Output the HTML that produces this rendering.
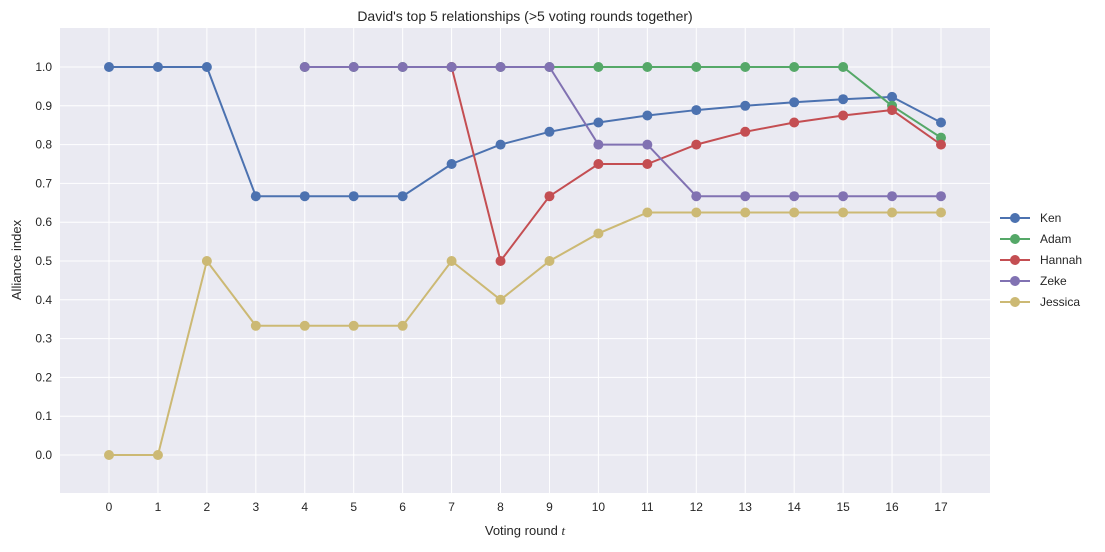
<!DOCTYPE html>
<html><head><meta charset="utf-8"><style>
body{margin:0;background:#fff;}
svg{display:block;font-family:"Liberation Sans",Arial,sans-serif;}
</style></head><body>
<svg id="chart" width="1105" height="552" xmlns="http://www.w3.org/2000/svg">
<rect x="60" y="28" width="930" height="465" fill="#eaeaf2"/>
<g id="grid"></g>
<g id="series"></g>
<g id="ticks" font-size="12" fill="#262626"></g>
<text x="525" y="21" text-anchor="middle" font-size="14" fill="#262626">David's top 5 relationships (&gt;5 voting rounds together)</text>
<text x="525" y="535" text-anchor="middle" font-size="13" fill="#262626">Voting round <tspan font-style="italic" font-family="Liberation Serif">t</tspan></text>
<text transform="translate(21,260) rotate(-90)" text-anchor="middle" font-size="13" fill="#262626">Alliance index</text>
<g id="legend" font-size="12" fill="#262626"></g>
</svg>
<script>
const rounds=[0,1,2,3,4,5,6,7,8,9,10,11,12,13,14,15,16,17];
const yTicks=[0,0.1,0.2,0.3,0.4,0.5,0.6,0.7,0.8,0.9,1.0];
const names=["Ken","Adam","Hannah","Zeke","Jessica"];
const colors=["#4c72b0","#55a868","#c44e52","#8172b2","#ccb974"];
const kenX=rounds, kenY=[1,1,1,0.667,0.667,0.667,0.667,0.75,0.8,0.833,0.857,0.875,0.889,0.9,0.909,0.917,0.923,0.857];
const adamX=[4,5,6,7,8,9,10,11,12,13,14,15,16,17], adamY=[1,1,1,1,1,1,1,1,1,1,1,1,0.9,0.818];
const hannahX=[7,8,9,10,11,12,13,14,15,16,17], hannahY=[1,0.5,0.667,0.75,0.75,0.8,0.833,0.857,0.875,0.889,0.8];
const zekeX=[4,5,6,7,8,9,10,11,12,13,14,15,16,17], zekeY=[1,1,1,1,1,1,0.8,0.8,0.667,0.667,0.667,0.667,0.667,0.667];
const jessX=rounds, jessY=[0,0,0.5,0.333,0.333,0.333,0.333,0.5,0.4,0.5,0.571,0.625,0.625,0.625,0.625,0.625,0.625,0.625];
const seriesX=[kenX,adamX,hannahX,zekeX,jessX], seriesY=[kenY,adamY,hannahY,zekeY,jessY];
const NS="http://www.w3.org/2000/svg";
const xs=v=>109+v*(941-109)/17, ys=v=>455-v*388;
function mk(t,p,a){const e=document.createElementNS(NS,t);for(const k in a)e.setAttribute(k,a[k]);p.appendChild(e);return e;}
const g=document.getElementById('grid'),tk=document.getElementById('ticks');
rounds.forEach(r=>{const l=mk('line',g,{x1:xs(r),x2:xs(r),y1:28,y2:493,stroke:'#fff','stroke-width':1});

const t=mk('text',tk,{x:xs(r),y:511,'text-anchor':'middle'});t.textContent=r;
});
yTicks.forEach(v=>{const l=mk('line',g,{x1:60,x2:990,y1:ys(v),y2:ys(v),stroke:'#fff','stroke-width':1});

const t=mk('text',tk,{x:52,y:ys(v)+4,'text-anchor':'end'});t.textContent=v.toFixed(1);
});
const s=document.getElementById('series');
names.forEach((n,i)=>{const grp=mk('g',s,{});

const pts=seriesX[i].map((x,j)=>xs(x)+','+ys(seriesY[i][j])).join(' ');
const pl=mk('polyline',grp,{points:pts,fill:'none',stroke:colors[i],'stroke-width':2});

seriesX[i].forEach((x,j)=>{const c=mk('circle',grp,{cx:xs(x),cy:ys(seriesY[i][j]),r:5,fill:colors[i]});
});
const lg=document.getElementById('legend');const y0=218+i*21;
const le=mk('g',lg,{});
mk('line',le,{x1:1000,x2:1030,y1:y0,y2:y0,stroke:colors[i],'stroke-width':2});
mk('circle',le,{cx:1015,cy:y0,r:5,fill:colors[i]});
const t=mk('text',le,{x:1040,y:y0+4});t.textContent=n;});
</script>
</body></html>
